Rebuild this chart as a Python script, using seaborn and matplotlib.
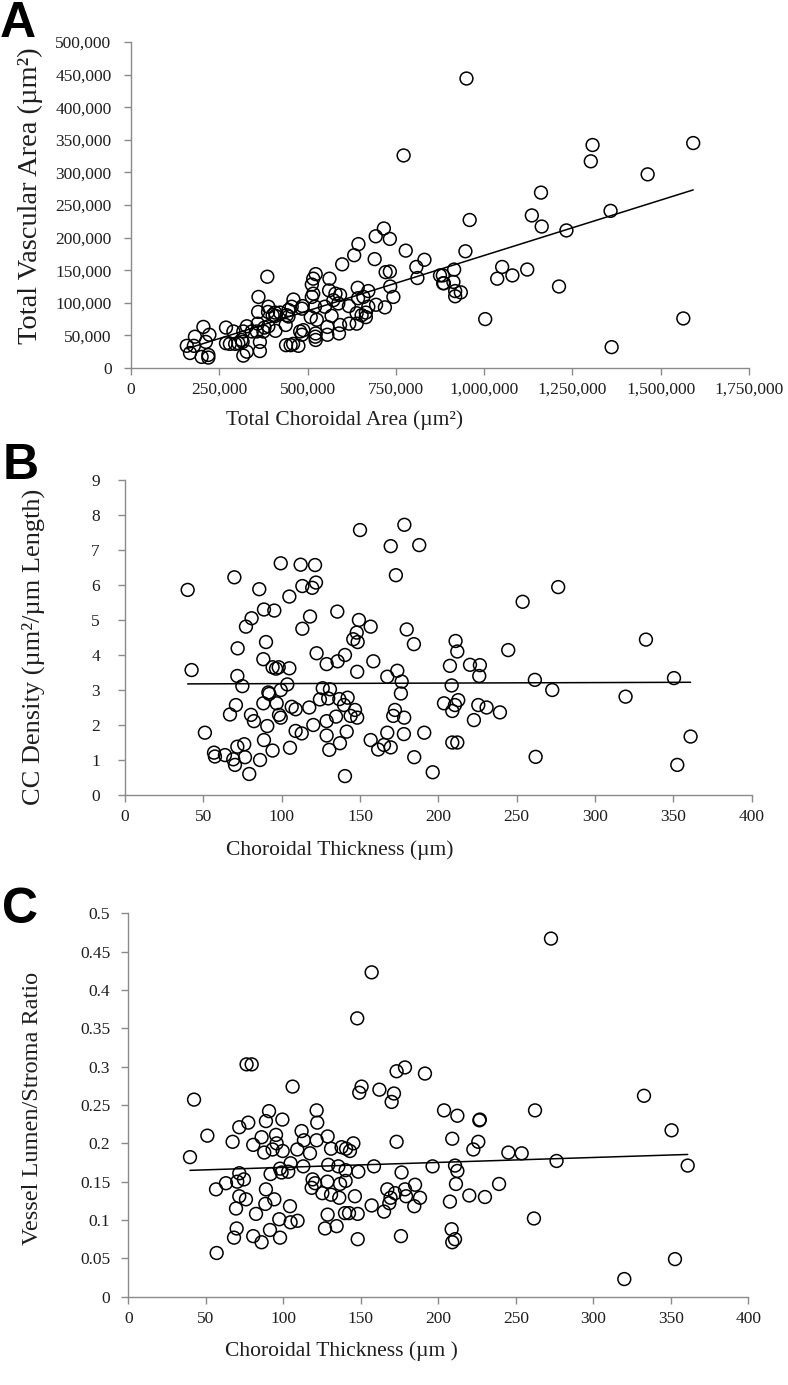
import numpy as np
import matplotlib
matplotlib.use("Agg")
import matplotlib.pyplot as plt
from matplotlib.ticker import FuncFormatter, MultipleLocator
import seaborn as sns

# panel A: total choroidal area vs total vascular area (um^2)
choroidal_area = [
    772000, 716000, 693000, 733000, 644000, 632000, 778000, 690000, 831000, 598000,
    808000, 811000, 386000, 721000, 733000, 875000, 884000, 516000, 523000, 562000,
    512000, 516000, 561000, 579000, 592000, 642000, 672000, 734000, 743000, 512000,
    460000, 361000, 360000, 388000, 408000, 409000, 446000, 455000, 486000, 484000,
    446000, 438000, 409000, 389000, 378000, 375000, 359000, 356000, 342000, 365000,
    365000, 328000, 318000, 316000, 318000, 328000, 290000, 269000, 269000, 280000,
    295000, 304000, 313000, 205000, 181000, 222000, 212000, 158000, 167000, 178000,
    200000, 219000, 219000, 439000, 452000, 474000, 459000, 479000, 488000, 484000,
    523000, 523000, 522000, 556000, 556000, 589000, 592000, 526000, 509000, 521000,
    549000, 568000, 587000, 617000, 618000, 639000, 639000, 653000, 665000, 665000,
    672000, 694000, 719000, 658000, 643000, 573000, 422000, 401000, 389000, 441000,
    950000, 1307000, 1302000, 1592000, 1463000, 1161000, 1135000, 1163000, 959000, 1358000,
    1233000, 947000, 915000, 883000, 886000, 913000, 918000, 918000, 934000, 1051000,
    1037000, 1080000, 1122000, 1212000, 1003000, 1564000, 1361000,
]
vascular_area = [
    326000, 214000, 202000, 198000, 190000, 173000, 180000, 167000, 166000, 159000,
    155000, 138000, 140000, 147000, 148000, 142000, 130000, 137000, 144000, 137000,
    128000, 114000, 119000, 114000, 112000, 123000, 118000, 125000, 109000, 109000,
    105000, 109000, 86000, 86000, 85000, 80000, 89000, 94000, 95000, 91000,
    79000, 66000, 57000, 64000, 62000, 56000, 68000, 56000, 56000, 40000,
    26000, 64000, 56000, 40000, 19000, 25000, 56000, 62000, 38000, 37000,
    37000, 38000, 43000, 63000, 48000, 51000, 40000, 34000, 23000, 34000,
    17000, 20000, 16000, 35000, 35000, 34000, 37000, 56000, 58000, 51000,
    53000, 43000, 48000, 51000, 63000, 53000, 66000, 74000, 78000, 94000,
    94000, 80000, 99000, 95000, 68000, 68000, 84000, 81000, 78000, 85000,
    94000, 97000, 93000, 109000, 107000, 104000, 85000, 81000, 94000, 81000,
    444000, 342000, 317000, 345000, 297000, 269000, 234000, 217000, 227000, 241000,
    211000, 179000, 151000, 142000, 130000, 132000, 118000, 110000, 116000, 155000,
    137000, 142000, 151000, 125000, 75000, 76000, 32000,
]

# panel B: choroidal thickness (um) vs CC density
b_thickness = [
    40, 42.5, 69.8, 51, 56.8, 57.4, 63.8, 69.1, 70.2, 71.7,
    76.1, 76.6, 79.3, 67, 70.8, 71.7, 74.9, 71.9, 77.2, 80.8,
    85.7, 88.7, 95.3, 90, 88.3, 94.2, 96.4, 98.1, 104.9, 99.4,
    104.9, 112.1, 121.3, 113.2, 119.5, 121.9, 118.1, 113.2, 122.3, 128.7,
    135.7, 140.4, 135.5, 150, 169.6, 178.3, 187.8, 172.9, 149.3, 156.8,
    147.9, 145.7, 148.5, 179.8, 184.4, 148.2, 158.5, 167.4, 173.8, 176.6,
    176.1, 172.3, 171.2, 178.2, 178, 191, 167.4, 165.3, 161.6, 169.6,
    156.8, 184.6, 196.4, 140.4, 137.2, 141.5, 130.4, 128.7, 128.7, 134.7,
    120.2, 117.6, 112.8, 108.9, 105.3, 94.2, 88.7, 86.2, 90.8, 82.3,
    80.4, 88.3, 92.1, 91.5, 96.8, 98.3, 99.4, 99.4, 103.6, 106.4,
    108.9, 126.2, 130.8, 124.4, 129.7, 136.8, 142.1, 139.8, 146.8, 144,
    148.2, 276.5, 253.8, 211, 212.1, 244.6, 332.5, 207.4, 220.2, 226.5,
    226.1, 208.5, 261.6, 272.7, 350.4, 319.5, 203.6, 212.7, 210.6, 208.9,
    225.5, 230.8, 239.3, 222.7, 208.9, 212.1, 262.1, 361, 352.5,
]
cc_density = [
    5.86, 3.57, 6.22, 1.78, 1.21, 1.10, 1.14, 1.02, 0.86, 1.38,
    1.45, 1.08, 0.60, 2.30, 2.57, 3.40, 3.11, 4.19, 4.81, 5.05,
    5.88, 5.30, 5.27, 4.37, 3.88, 3.65, 3.61, 3.65, 3.62, 6.62,
    5.67, 6.58, 6.57, 5.97, 5.92, 6.07, 5.10, 4.75, 4.05, 3.74,
    3.82, 4.00, 5.24, 7.57, 7.11, 7.72, 7.14, 6.28, 5.00, 4.81,
    4.64, 4.45, 4.37, 4.73, 4.31, 3.52, 3.82, 3.38, 3.55, 3.24,
    2.90, 2.43, 2.26, 2.21, 1.74, 1.78, 1.78, 1.43, 1.30, 1.36,
    1.57, 1.08, 0.65, 0.54, 1.48, 1.81, 1.29, 1.70, 2.11, 2.24,
    2.00, 2.50, 1.76, 1.83, 1.35, 1.27, 1.57, 1.00, 1.97, 2.11,
    2.29, 2.62, 2.89, 2.93, 2.62, 2.29, 2.21, 3.00, 3.16, 2.52,
    2.45, 3.05, 3.02, 2.73, 2.76, 2.74, 2.78, 2.57, 2.43, 2.26,
    2.21, 5.94, 5.52, 4.40, 4.10, 4.14, 4.44, 3.69, 3.72, 3.71,
    3.40, 3.13, 3.29, 3.00, 3.34, 2.81, 2.62, 2.71, 2.57, 2.40,
    2.57, 2.50, 2.36, 2.14, 1.50, 1.50, 1.09, 1.67, 0.86,
]

# panel C: choroidal thickness (um) vs vessel lumen / stroma ratio
c_thickness = [
    157, 147.7, 76.3, 79.6, 173.1, 178.5, 191.4, 106, 150.5, 149,
    162, 171.4, 169.9, 42.4, 203.7, 121.5, 121.9, 90.8, 88.8, 99.4,
    77.4, 71.6, 51, 67.3, 80.6, 86, 95.3, 95.7, 93.1, 87.7,
    99.6, 111.8, 113.3, 109, 117.2, 121.5, 128.6, 130.8, 137.6, 145.2,
    143, 140.5, 173.1, 39.8, 104.7, 112.9, 97.9, 103.2, 98.9, 129,
    135.5, 140.2, 158.5, 148.4, 196.3, 176.3, 91.8, 71.6, 74.6, 70.3,
    63, 56.6, 71.6, 75.9, 69.5, 88.8, 94.2, 88.4, 82.4, 104.3,
    118.9, 120.5, 118.3, 128.4, 125.2, 130.8, 136.1, 136.6, 140.2, 146.2,
    167.1, 172.1, 169.2, 168.4, 178.5, 179.2, 185, 188.2, 184.5, 157,
    165, 148, 139.8, 142.4, 128.6, 69.9, 97.4, 104.7, 109.2, 68.2,
    80.6, 86, 91.4, 97.9, 126.9, 134.4, 148, 175.9, 57,
    272.7, 332.7, 262.4, 212.3, 226.5, 226.8, 350.5, 209, 225.8, 222.6,
    245.2, 253.8, 276.3, 360.9, 210.8, 212.3, 211.4, 239.2, 220, 230.1,
    207.5, 261.7, 208.6, 210.8, 209, 352.7, 320,
]
lumen_stroma = [
    0.423, 0.363, 0.303, 0.303, 0.294, 0.299, 0.291, 0.274, 0.274, 0.266,
    0.270, 0.265, 0.254, 0.257, 0.243, 0.243, 0.227, 0.242, 0.229, 0.231,
    0.227, 0.221, 0.210, 0.202, 0.198, 0.208, 0.211, 0.200, 0.192, 0.188,
    0.190, 0.216, 0.204, 0.192, 0.187, 0.204, 0.209, 0.193, 0.195, 0.200,
    0.190, 0.193, 0.202, 0.182, 0.174, 0.170, 0.167, 0.163, 0.162, 0.172,
    0.170, 0.165, 0.170, 0.163, 0.170, 0.162, 0.160, 0.161, 0.153, 0.150,
    0.148, 0.140, 0.131, 0.127, 0.115, 0.140, 0.127, 0.121, 0.108, 0.118,
    0.153, 0.148, 0.142, 0.150, 0.135, 0.133, 0.129, 0.147, 0.151, 0.131,
    0.140, 0.135, 0.129, 0.122, 0.140, 0.131, 0.146, 0.129, 0.118, 0.119,
    0.111, 0.108, 0.109, 0.109, 0.107, 0.089, 0.101, 0.097, 0.099, 0.077,
    0.079, 0.071, 0.087, 0.077, 0.089, 0.092, 0.075, 0.079, 0.057,
    0.467, 0.262, 0.243, 0.236, 0.230, 0.231, 0.217, 0.206, 0.202, 0.192,
    0.188, 0.187, 0.177, 0.171, 0.171, 0.164, 0.147, 0.147, 0.132, 0.130,
    0.124, 0.102, 0.088, 0.075, 0.071, 0.049, 0.023,
]

sns.set_style("ticks")
plt.rcParams['font.family'] = ['Liberation Serif', 'DejaVu Serif']

SPINE = '#8a8a8a'
TXT = '#1e1e1e'
W, H = 788, 1385

fig = plt.figure(figsize=(W / 100, H / 100), dpi=100)


def panel(box, x, y, xmax, xstep, ymax, ystep, xfmt, yfmt, xlabel, ylabel,
          ylabel_size, xlab_pos, ylab_pos, ypad):
    left, top, right, bottom = box
    ax = fig.add_axes([left / W, 1 - bottom / H, (right - left) / W, (bottom - top) / H])
    sns.regplot(x=np.array(x), y=np.array(y), ax=ax, ci=None, color='black',
                scatter_kws=dict(s=85, facecolors='none', edgecolors='black',
                                 linewidths=1.1, alpha=1),
                line_kws=dict(color='black', lw=1.1))
    ax.set_xlim(0, xmax)
    ax.set_ylim(0, ymax)
    ax.xaxis.set_major_locator(MultipleLocator(xstep))
    ax.yaxis.set_major_locator(MultipleLocator(ystep))
    ax.xaxis.set_major_formatter(FuncFormatter(xfmt))
    ax.yaxis.set_major_formatter(FuncFormatter(yfmt))
    sns.despine(ax=ax)
    for s in ['left', 'bottom']:
        ax.spines[s].set_color(SPINE)
        ax.spines[s].set_linewidth(1.0)
    ax.tick_params(direction='out', length=5, width=1, color=SPINE,
                   labelcolor=TXT, labelsize=12.5)
    ax.tick_params(axis='x', pad=5)
    ax.tick_params(axis='y', pad=ypad)
    ax.set_xlabel(xlabel, fontsize=15.5, color=TXT)
    ax.set_ylabel(ylabel, fontsize=ylabel_size, color=TXT)
    ax.xaxis.label.set_va('center')
    ax.yaxis.label.set_va('center')
    ax.xaxis.set_label_coords(*xlab_pos)
    ax.yaxis.set_label_coords(*ylab_pos)
    return ax


def comma(v, pos):
    return f"{v:,.0f}"


def plain(v, pos):
    return f"{v:g}"


def ratio(v, pos):
    return f"{round(v, 2):g}"


panel((131, 42, 749, 368), choroidal_area, vascular_area, 1750000, 250000,
      500000, 50000, comma, comma,
      'Total Choroidal Area (µm²)', 'Total Vascular Area (µm²)', 20.5,
      (0.346, -0.16), (-0.163, 0.53), 9)

panel((125, 480, 751.7, 795), b_thickness, cc_density, 400, 50,
      9, 1, plain, plain,
      'Choroidal Thickness (µm)', 'CC Density (µm²/µm Length)', 19,
      (0.343, -0.175), (-0.147, 0.47), 13)

panel((128.3, 913.3, 748.3, 1296.7), c_thickness, lumen_stroma, 400, 50,
      0.5, 0.05, plain, ratio,
      'Choroidal Thickness (µm )', 'Vessel Lumen/Stroma Ratio', 17.5,
      (0.344, -0.143), (-0.154, 0.49), 8)

for letter, bx, by in [('A', 0, 37), ('B', 3, 479), ('C', 2, 923)]:
    fig.text(bx / W, 1 - by / H, letter, fontsize=36, fontweight='bold',
             family=['Liberation Sans', 'DejaVu Sans'], color='black',
             ha='left', va='baseline')

fig.savefig('out.png', dpi=100)
